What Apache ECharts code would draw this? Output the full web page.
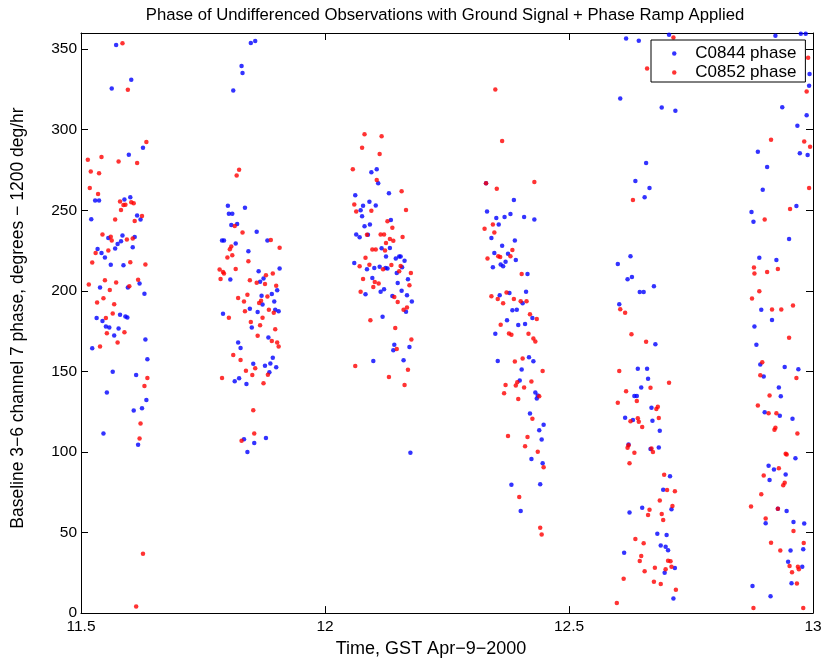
<!DOCTYPE html>
<html><head><meta charset="utf-8">
<script src="https://cdn.jsdelivr.net/npm/echarts@6/dist/echarts.min.js"></script>
<style>html,body{margin:0;padding:0;background:#fff}#c{width:826px;height:663px}</style>
</head><body><div id="c"></div>
<script>
const titleText = 'Phase of Undifferenced Observations with Ground Signal + Phase Ramp Applied';
const xName = 'Time, GST Apr\u22129\u22122000';
const yName = 'Baseline 3\u22126 channel 7 phase, degrees \u2212 1200 deg/hr';
const seriesNames = ['C0844 phase', 'C0852 phase'];
const xRange = [11.5, 13, 0.5];
const yRange = [0, 360, 50];

// C0844 phase (blue), [time, phase]
const c0844 = [
[11.572,352.5],[11.603,331],[11.563,325.6],[11.598,284.5],[11.627,288.8],[11.529,256],[11.537,256],[11.589,256.7],[11.601,258],[11.521,244.4],[11.615,246.7],[11.622,244.2],[11.585,234.4],[11.610,233.4],[11.556,232.8],[11.582,230.7],[11.575,229.1],[11.534,226],[11.606,227],[11.542,223.4],[11.549,220.7],[11.570,226.2],[11.561,216.2],[11.587,215.8],[11.620,204.6],[11.539,202.1],[11.596,202.1],[11.630,198.2],[11.532,183.1],[11.544,181.3],[11.580,185.2],[11.591,184.1],[11.595,183.5],[11.551,177.8],[11.558,177.2],[11.577,176.6],[11.568,172.3],[11.632,169.8],[11.523,164.3],[11.636,157.6],[11.565,149.8],[11.613,147.8],[11.553,136.9],[11.634,132.2],[11.625,127.1],[11.608,125.7],[11.546,111.4],[11.617,104.4],
[11.848,353.8],[11.857,355],[11.829,339.5],[11.831,335.2],[11.812,324.3],[11.801,252.8],[11.836,251.5],[11.803,247.9],[11.810,247.9],[11.808,240.8],[11.820,241.4],[11.860,236.7],[11.789,231.3],[11.793,231.3],[11.817,229.3],[11.882,231.3],[11.843,224.6],[11.806,207],[11.864,212.1],[11.907,213.8],[11.867,205.6],[11.874,207.7],[11.902,200.3],[11.891,198],[11.870,197],[11.896,193.3],[11.872,191.5],[11.846,188.8],[11.898,188.2],[11.905,187.4],[11.862,186.8],[11.791,185.8],[11.850,177.2],[11.884,171.1],[11.822,168],[11.827,164.5],[11.893,158.4],[11.853,154.7],[11.877,153.5],[11.888,154.9],[11.900,152.5],[11.886,149.4],[11.824,145.7],[11.815,143.9],[11.839,142.1],[11.834,107.9],[11.855,105.5],[11.879,108.7],[11.841,99.9],
[12.095,273.6],[12.106,275.5],[12.109,266.7],[12.062,259.3],[12.131,260.6],[12.091,255.3],[12.078,252.8],[12.104,252.9],[12.073,250],[12.076,246.3],[12.135,244],[12.081,240.1],[12.092,241.2],[12.064,234.9],[12.071,233.2],[12.088,234.8],[12.116,226.4],[12.133,226.5],[12.125,221.3],[12.145,220.1],[12.152,221.3],[12.155,221.3],[12.163,218.7],[12.060,217.2],[12.112,215],[12.101,214.2],[12.086,213.4],[12.124,214.2],[12.128,213.8],[12.158,214.6],[12.147,211.1],[12.097,208],[12.170,207.2],[12.149,204.8],[12.114,199.5],[12.121,200.9],[12.157,200.1],[12.083,197.8],[12.138,196.8],[12.168,197.2],[12.178,193.3],[12.166,187],[12.118,183.9],[12.142,166.6],[12.140,163.1],[12.173,165.1],[12.099,156.5],[12.161,156.9],[12.175,99.5],
[12.330,266.7],[12.387,256.3],[12.332,249.3],[12.351,245.2],[12.368,245.8],[12.380,247.7],[12.408,245.8],[12.429,244.2],[12.356,241.2],[12.341,232.8],[12.389,231.3],[12.363,227.9],[12.347,223.4],[12.375,223],[12.370,218.1],[12.391,219.1],[12.360,216.4],[12.365,215.2],[12.344,214.6],[12.415,210.5],[12.412,199.5],[12.378,198.6],[12.358,197.2],[12.405,192.3],[12.384,188],[12.393,188.2],[12.425,183.1],[12.373,181.7],[12.396,178.8],[12.410,179.4],[12.349,173.3],[12.354,156.5],[12.418,158.8],[12.427,156.3],[12.403,151.2],[12.399,144.3],[12.431,136.9],[12.436,135.1],[12.434,133.2],[12.420,123.8],[12.448,116.9],[12.439,113.4],[12.444,107.7],[12.423,95.6],[12.446,93],[12.382,79.7],[12.441,79.9],[12.401,63.3],
[12.617,356.6],[12.643,355.2],[12.705,358.9],[12.605,319.4],[12.690,313.7],[12.718,311.7],[12.658,279.4],[12.636,268.1],[12.665,263.8],[12.655,258.1],[12.626,221.5],[12.600,216.6],[12.620,207.2],[12.629,208.6],[12.674,202.9],[12.645,199.3],[12.653,199.3],[12.603,191.7],[12.677,166.8],[12.641,151.6],[12.660,151.6],[12.662,145.5],[12.648,140],[12.634,134.7],[12.639,134.7],[12.669,127.5],[12.615,121.2],[12.631,119.8],[12.671,119.4],[12.686,113.2],[12.622,104.6],[12.667,101.8],[12.684,102.8],[12.707,85],[12.693,76.6],[12.710,64.4],[12.650,65.4],[12.624,62.5],[12.681,49.2],[12.700,48.4],[12.688,41.9],[12.698,41.1],[12.703,39],[12.613,37.4],[12.717,28],[12.696,25.1],[12.714,9],
[12.923,358.3],[12.975,359.5],[12.985,359.6],[12.993,334.6],[12.992,327.2],[12.937,313.9],[12.987,309],[12.968,302.5],[12.887,286.3],[12.973,285.3],[12.989,284.3],[12.906,276.9],[12.897,262.8],[12.966,252.6],[12.874,248.9],[12.878,242.8],[12.951,232.2],[12.890,220.5],[12.925,219.1],[12.894,188.2],[12.916,181.9],[12.880,177.8],[12.884,166.6],[12.892,154.3],[12.899,146.9],[12.942,152.7],[12.970,151.4],[12.930,140],[12.934,134.5],[12.901,124.7],[12.932,122.4],[12.958,120.6],[12.964,96.1],[12.909,91.5],[12.920,89.1],[12.944,86],[12.911,82.6],[12.928,64.8],[12.946,63.3],[12.903,55.8],[12.960,56.6],[12.982,55.6],[12.954,38.8],[12.980,39.7],[12.949,31.9],[12.978,28.8],[12.956,18.6],[12.876,16.8],[12.913,10.4]
];

// C0852 phase (red), [time, phase]
const c0852 = [
[11.585,353.6],[11.596,324.8],[11.634,292.3],[11.542,283.1],[11.514,281.4],[11.577,280.2],[11.615,279.4],[11.520,274],[11.537,273],[11.518,263.8],[11.535,260.1],[11.580,255.5],[11.591,253.4],[11.587,253.2],[11.603,254.9],[11.608,254.4],[11.582,250.1],[11.570,244.2],[11.610,243.4],[11.625,246.5],[11.544,235],[11.561,233.6],[11.563,231.3],[11.594,231.9],[11.606,232.4],[11.556,225],[11.530,223.4],[11.523,217.5],[11.601,217.7],[11.632,216.4],[11.549,206.6],[11.572,205.2],[11.617,206.8],[11.516,204],[11.599,202.9],[11.559,200.5],[11.546,195.4],[11.533,192.7],[11.568,191.7],[11.565,186],[11.551,183.1],[11.553,173.7],[11.589,174.3],[11.575,168],[11.539,165.5],[11.636,145.9],[11.630,141],[11.622,117.7],[11.620,108.3],[11.627,36.8],[11.613,4.1],
[11.824,275.1],[11.819,271.6],[11.831,236.2],[11.889,231.6],[11.907,226.8],[11.808,227.5],[11.805,225.8],[11.815,240.2],[11.810,222.1],[11.800,220.7],[11.843,218.3],[11.784,213.2],[11.791,211.7],[11.793,210.7],[11.817,213.5],[11.786,207.4],[11.846,206.6],[11.860,205],[11.879,209.7],[11.893,210.7],[11.877,204.3],[11.900,203.1],[11.841,197.6],[11.822,195.6],[11.834,193.3],[11.882,196.4],[11.869,193.9],[11.865,192.5],[11.885,188.2],[11.895,186.4],[11.836,187.4],[11.803,183.3],[11.872,183.3],[11.848,180.7],[11.867,178.6],[11.898,176.1],[11.862,172.1],[11.891,168.8],[11.902,168],[11.905,165.5],[11.812,160.2],[11.827,157.1],[11.857,151.9],[11.838,150.4],[11.851,147.8],[11.883,147.9],[11.789,145.9],[11.874,142.7],[11.853,125.9],[11.855,111.4],[11.829,106.9],
[12.081,297.2],[12.116,295.9],[12.076,288.8],[12.112,284.9],[12.057,275.5],[12.106,268.7],[12.157,261.8],[12.060,253.6],[12.064,249.3],[12.095,249.7],[12.166,250.1],[12.128,243.2],[12.138,239.1],[12.086,234.8],[12.114,234.9],[12.121,234.9],[12.159,233.4],[12.133,232.2],[12.140,231.1],[12.125,229.7],[12.097,225.6],[12.104,225.6],[12.123,225],[12.083,220.5],[12.091,216.2],[12.071,215.2],[12.136,216],[12.155,215.4],[12.119,213.4],[12.152,212.1],[12.176,211.1],[12.078,207.4],[12.102,205.4],[12.110,204.6],[12.099,202.3],[12.173,203.4],[12.073,199.5],[12.142,196.2],[12.149,193.1],[12.168,189.7],[12.161,188.2],[12.093,181.7],[12.144,177],[12.177,169.8],[12.147,163.9],[12.062,153.3],[12.170,151],[12.131,146.5],[12.163,141.6],
[12.349,324.9],[12.363,292.9],[12.330,266.7],[12.429,267.5],[12.352,263.4],[12.344,241.2],[12.327,238.5],[12.347,236.2],[12.384,225.4],[12.333,220.1],[12.355,221.5],[12.359,221],[12.380,221.5],[12.403,210.5],[12.341,196.6],[12.354,195],[12.372,199],[12.365,192.3],[12.387,195],[12.401,193.5],[12.413,193.5],[12.420,185.4],[12.434,182.5],[12.360,179],[12.377,173.5],[12.382,172.7],[12.417,173.3],[12.427,170.4],[12.431,168.6],[12.405,158],[12.389,156.1],[12.446,150.2],[12.423,143.7],[12.394,143.3],[12.391,141.2],[12.370,141.6],[12.408,140],[12.367,136.5],[12.396,132.9],[12.439,134.5],[12.425,120.6],[12.375,109.9],[12.415,109.3],[12.410,103.6],[12.436,100.1],[12.448,90.5],[12.398,72.1],[12.441,52.9],[12.444,48.8],
[12.714,357.2],[12.660,338],[12.631,256.3],[12.605,188.6],[12.615,186.4],[12.628,173.1],[12.658,168.4],[12.603,150.2],[12.705,142.9],[12.667,139.8],[12.617,137.7],[12.600,130.6],[12.639,131.6],[12.682,128.1],[12.679,126.7],[12.684,121],[12.641,120.9],[12.626,119.1],[12.643,118.7],[12.650,115.5],[12.622,104.2],[12.620,102.6],[12.669,102.2],[12.672,99.9],[12.634,99.5],[12.624,93],[12.695,85.8],[12.701,76.4],[12.717,75.6],[12.686,69.9],[12.712,66.4],[12.665,64.2],[12.662,60.9],[12.690,61.5],[12.693,57.8],[12.636,46],[12.653,43.3],[12.648,35.4],[12.645,32.3],[12.703,32.5],[12.708,32.1],[12.710,28.8],[12.698,27.2],[12.676,28.2],[12.655,26],[12.612,21.3],[12.674,19.4],[12.688,18],[12.719,14.5],[12.598,6.3],
[12.990,344.6],[12.987,323.7],[12.914,293.7],[12.982,292.6],[12.994,289.4],[12.992,263.8],[12.953,250.8],[12.901,244.2],[12.879,214.4],[12.880,210.7],[12.906,211.7],[12.928,213.6],[12.890,199.7],[12.875,195.2],[12.916,188.4],[12.935,188.4],[12.959,190.9],[12.951,170.9],[12.896,155.7],[12.892,147.6],[12.966,145.9],[12.911,135.1],[12.887,128.9],[12.909,124.1],[12.925,124.1],[12.923,115.1],[12.921,113.8],[12.968,111.4],[12.944,98.9],[12.946,98.5],[12.930,89.9],[12.899,85.4],[12.942,80.9],[12.939,79.3],[12.894,73.8],[12.873,66.2],[12.928,64.8],[12.903,58.7],[12.960,50.9],[12.914,43.7],[12.981,43.5],[12.933,38.8],[12.952,29.2],[12.969,28.8],[12.971,27.2],[12.957,25.3],[12.967,18.4],[12.878,3.1],[12.980,3.1]
];

const FONT = "'Liberation Sans', Arial, Helvetica, sans-serif";
const chart = echarts.init(document.getElementById('c'), null, {renderer: 'canvas'});

function xAx(pos, showLabel) {
  return {
    type: 'value', min: xRange[0], max: xRange[1], interval: xRange[2], position: pos,
    axisLine: {show: true, onZero: false, lineStyle: {color: '#000', width: 1}},
    axisTick: {show: true, inside: true, length: 7, lineStyle: {color: '#000', width: 1}},
    axisLabel: {show: showLabel, color: '#000', fontSize: 15.5, fontFamily: FONT, margin: 6},
    splitLine: {show: false},
    name: showLabel ? xName : '', nameLocation: 'middle', nameGap: 24,
    nameTextStyle: {color: '#000', fontSize: 18, fontFamily: FONT, padding: [0, 32, 0, 0]}
  };
}
function yAx(pos, showLabel) {
  return {
    type: 'value', min: yRange[0], max: yRange[1], interval: yRange[2], position: pos,
    axisLine: {show: true, onZero: false, lineStyle: {color: '#000', width: 1}},
    axisTick: {show: true, inside: true, length: 7, lineStyle: {color: '#000', width: 1}},
    axisLabel: {show: showLabel, color: '#000', fontSize: 15.5, fontFamily: FONT, margin: 4, showMaxLabel: false},
    splitLine: {show: false},
    name: showLabel ? yName : '', nameLocation: 'middle', nameGap: 53.5, nameRotate: 90,
    nameTextStyle: {color: '#000', fontSize: 17.5, fontFamily: FONT, padding: [0, 0, 0, 10]}
  };
}

chart.setOption({
  backgroundColor: '#fff',
  animation: false,
  title: {
    text: titleText, left: 440, top: 2, textAlign: 'center',
    textStyle: {color: '#000', fontSize: 16.7, fontWeight: 'normal', fontFamily: FONT}
  },
  grid: {left: 81, right: 13, top: 33, bottom: 43, containLabel: false},
  xAxis: [xAx('bottom', true), xAx('top', false)],
  yAxis: [yAx('left', true), yAx('right', false)],
  legend: {
    data: seriesNames, orient: 'vertical', left: 651, top: 40,
    icon: 'circle', itemWidth: 32, itemHeight: 4.5, itemGap: 2,
    padding: [5, 9, 1, 21],
    backgroundColor: '#fff', borderColor: '#000', borderWidth: 1,
    textStyle: {color: '#000', fontSize: 17, lineHeight: 17, fontFamily: FONT}
  },
  series: [
    {name: seriesNames[0], type: 'scatter', data: c0844, symbol: 'circle', symbolSize: 4.5,
     itemStyle: {color: '#0000ff'}, xAxisIndex: 0, yAxisIndex: 0},
    {name: seriesNames[1], type: 'scatter', data: c0852, symbol: 'circle', symbolSize: 4.5,
     itemStyle: {color: '#ff0000'}, xAxisIndex: 0, yAxisIndex: 0}
  ]
});
</script>
</body></html>
